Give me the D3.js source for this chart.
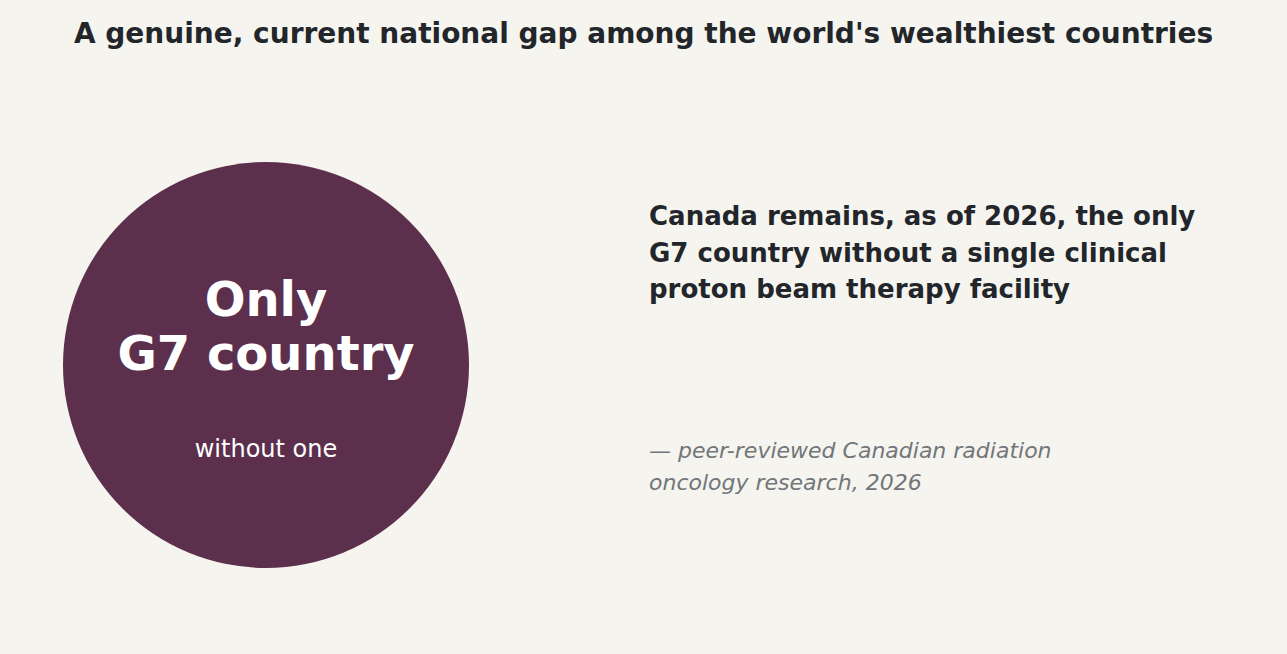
<!DOCTYPE html>
<html><head><meta charset="utf-8">
<script src="https://cdn.jsdelivr.net/npm/d3@7"></script>
<style>body{margin:0;background:#f5f4ef;}svg{display:block;font-family:"DejaVu Sans",sans-serif;}</style>
</head><body>
<script>
const title = "A genuine, current national gap among the world's wealthiest countries";
const bigLines = ["Only", "G7 country"];
const subLabel = "without one";
const statement = ["Canada remains, as of 2026, the only", "G7 country without a single clinical", "proton beam therapy facility"];
const source = ["— peer-reviewed Canadian radiation", "oncology research, 2026"];
const W = 1287, H = 654;
const svg = d3.select("body").append("svg").attr("width", W).attr("height", H);
svg.append("rect").attr("width", W).attr("height", H).attr("fill", "#f5f4ef");
svg.append("text").attr("x", W/2).attr("y", 43).attr("text-anchor", "middle")
  .attr("font-size", 28).attr("font-weight", "bold").attr("fill", "#22262a").text(title);
svg.append("circle").attr("cx", 266).attr("cy", 365).attr("r", 203).attr("fill", "#5c2f4c");
const y1 = d3.scalePoint().domain(bigLines).range([316, 370]);
svg.selectAll(".big").data(bigLines).join("text").attr("x", 266).attr("y", d => y1(d))
  .attr("text-anchor", "middle").attr("font-size", 48).attr("font-weight", "bold").attr("fill", "#fff").text(d => d);
svg.append("text").attr("x", 266).attr("y", 457).attr("text-anchor", "middle")
  .attr("font-size", 24).attr("fill", "#fff").text(subLabel);
svg.selectAll(".st").data(statement).join("text").attr("x", 649).attr("y", (d, i) => 225 + i * 36.5)
  .attr("font-size", 26).attr("font-weight", "bold").attr("fill", "#22262a").text(d => d);
svg.selectAll(".src").data(source).join("text").attr("x", 649).attr("y", (d, i) => 458 + i * 32)
  .attr("font-size", 22).attr("font-style", "italic").attr("fill", "#727679").text(d => d);
</script>
</body></html>
